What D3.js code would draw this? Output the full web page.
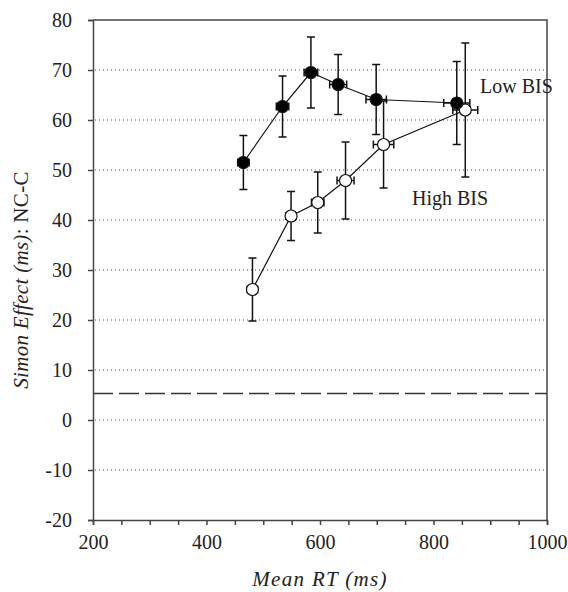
<!DOCTYPE html>
<html>
<head>
<meta charset="utf-8">
<script src="https://cdn.jsdelivr.net/npm/d3@7"></script>
<style>
  body { margin: 0; background: #fff; }
  text { font-family: "Liberation Serif", "DejaVu Serif", serif; fill: #222; }
</style>
</head>
<body>
<div id="chart"></div>
<script>
// Low BIS (filled markers)
const lowRT = [465, 534, 584, 632, 699, 841];
const lowRTerr = [10, 11, 12, 15, 18, 23];
const lowEffect = [51.5, 62.7, 69.5, 67.1, 64.1, 63.4];
const lowEffectErr = [5.4, 6.1, 7.1, 6.0, 7.0, 8.3];

// High BIS (open markers)
const highRT = [481, 549, 596, 645, 712, 856];
const highRTerr = [9, 9, 11, 15, 18, 22];
const highEffect = [26.1, 40.8, 43.5, 47.9, 55.1, 62.0];
const highEffectErr = [6.3, 4.9, 6.1, 7.7, 8.7, 13.4];

const xTicks = [200, 400, 600, 800, 1000];
const yTicks = [-20, -10, 0, 10, 20, 30, 40, 50, 60, 70, 80];
const refLine = 5.3;

const width = 568, height = 592;
const margin = {top: 20, right: 21, bottom: 72, left: 93};

const svg = d3.select("#chart").append("svg")
  .attr("width", width)
  .attr("height", height);

const x = d3.scaleLinear()
  .domain([200, 1000])
  .range([margin.left, width - margin.right]);

const y = d3.scaleLinear()
  .domain([-20, 80])
  .range([height - margin.bottom, margin.top]);

// dotted grid lines
svg.append("g")
  .selectAll("line")
  .data(yTicks.filter(d => d > -20 && d < 80))
  .enter().append("line")
  .attr("x1", x(200) + 2).attr("x2", x(1000))
  .attr("y1", d => y(d)).attr("y2", d => y(d))
  .attr("stroke", "#555")
  .attr("stroke-width", 1)
  .attr("stroke-dasharray", "1,3");

// dashed reference line
svg.append("line")
  .attr("x1", x(200)).attr("x2", x(1000))
  .attr("y1", y(refLine)).attr("y2", y(refLine))
  .attr("stroke", "#333")
  .attr("stroke-width", 1.5)
  .attr("stroke-dasharray", "20,6");

// frame top and right
svg.append("path")
  .attr("d", `M${x(200)},${y(80)}H${x(1000)}V${y(-20)}`)
  .attr("fill", "none")
  .attr("stroke", "#444")
  .attr("stroke-width", 1.5);

// axes
const xAxis = svg.append("g")
  .attr("transform", `translate(0,${y(-20)})`)
  .call(d3.axisBottom(x).tickValues(d3.range(200, 1001, 50)).tickSize(5)
    .tickFormat(d => xTicks.includes(d) ? String(d) : ""));

const yAxis = svg.append("g")
  .attr("transform", `translate(${x(200)},0)`)
  .call(d3.axisLeft(y).tickValues(yTicks).tickSize(5).tickPadding(16)
    .tickFormat(d => String(d)));

[xAxis, yAxis].forEach(g => {
  g.attr("font-family", "'Liberation Serif', serif").attr("font-size", 20);
  g.select(".domain").attr("stroke", "#444").attr("stroke-width", 1.5);
  g.selectAll(".tick line").attr("stroke", "#444").attr("stroke-width", 1.5);
  g.selectAll(".tick text").attr("fill", "#222");
});
xAxis.selectAll(".tick text").attr("dy", "1.05em");

// series
function drawSeries(rt, rtErr, eff, effErr, fill) {
  const pts = rt.map((d, i) => ({x: d, xe: rtErr[i], y: eff[i], ye: effErr[i]}));
  const g = svg.append("g");

  g.append("path")
    .datum(pts)
    .attr("fill", "none")
    .attr("stroke", "#111")
    .attr("stroke-width", 1.2)
    .attr("d", d3.line().x(d => x(d.x)).y(d => y(d.y)));

  const e = g.selectAll(".err").data(pts).enter().append("g")
    .attr("stroke", "#111").attr("stroke-width", 1.5);
  // vertical
  e.append("line")
    .attr("x1", d => x(d.x)).attr("x2", d => x(d.x))
    .attr("y1", d => y(d.y - d.ye)).attr("y2", d => y(d.y + d.ye));
  e.append("line")
    .attr("x1", d => x(d.x) - 4).attr("x2", d => x(d.x) + 4)
    .attr("y1", d => y(d.y + d.ye)).attr("y2", d => y(d.y + d.ye));
  e.append("line")
    .attr("x1", d => x(d.x) - 4).attr("x2", d => x(d.x) + 4)
    .attr("y1", d => y(d.y - d.ye)).attr("y2", d => y(d.y - d.ye));
  // horizontal
  e.append("line")
    .attr("x1", d => x(d.x - d.xe)).attr("x2", d => x(d.x + d.xe))
    .attr("y1", d => y(d.y)).attr("y2", d => y(d.y));
  e.append("line")
    .attr("x1", d => x(d.x - d.xe)).attr("x2", d => x(d.x - d.xe))
    .attr("y1", d => y(d.y) - 4).attr("y2", d => y(d.y) + 4);
  e.append("line")
    .attr("x1", d => x(d.x + d.xe)).attr("x2", d => x(d.x + d.xe))
    .attr("y1", d => y(d.y) - 4).attr("y2", d => y(d.y) + 4);

  g.selectAll("circle").data(pts).enter().append("circle")
    .attr("cx", d => x(d.x)).attr("cy", d => y(d.y))
    .attr("r", 6)
    .attr("fill", fill)
    .attr("stroke", "#111")
    .attr("stroke-width", 1.2);
}

drawSeries(highRT, highRTerr, highEffect, highEffectErr, "#fff");
drawSeries(lowRT, lowRTerr, lowEffect, lowEffectErr, "#000");

// series labels
svg.append("text")
  .attr("x", 480).attr("y", 93)
  .style("font-size", "20px")
  .text("Low BIS");

svg.append("text")
  .attr("x", 412).attr("y", 205)
  .style("font-size", "20px")
  .text("High BIS");

// axis titles
svg.append("text")
  .attr("x", (x(200) + x(1000)) / 2)
  .attr("y", 586)
  .attr("text-anchor", "middle")
  .style("font-size", "21px")
  .style("letter-spacing", "1.3px")
  .style("font-style", "italic")
  .text("Mean RT (ms)");

const yTitle = svg.append("text")
  .attr("transform", `translate(28,${(y(-20) + y(80)) / 2 + 10}) rotate(-90)`)
  .attr("text-anchor", "middle")
  .style("font-size", "21px")
  .style("letter-spacing", "0.3px");
yTitle.append("tspan").style("font-style", "italic").text("Simon Effect (ms)");
yTitle.append("tspan").text(": NC-C");
</script>
</body>
</html>
